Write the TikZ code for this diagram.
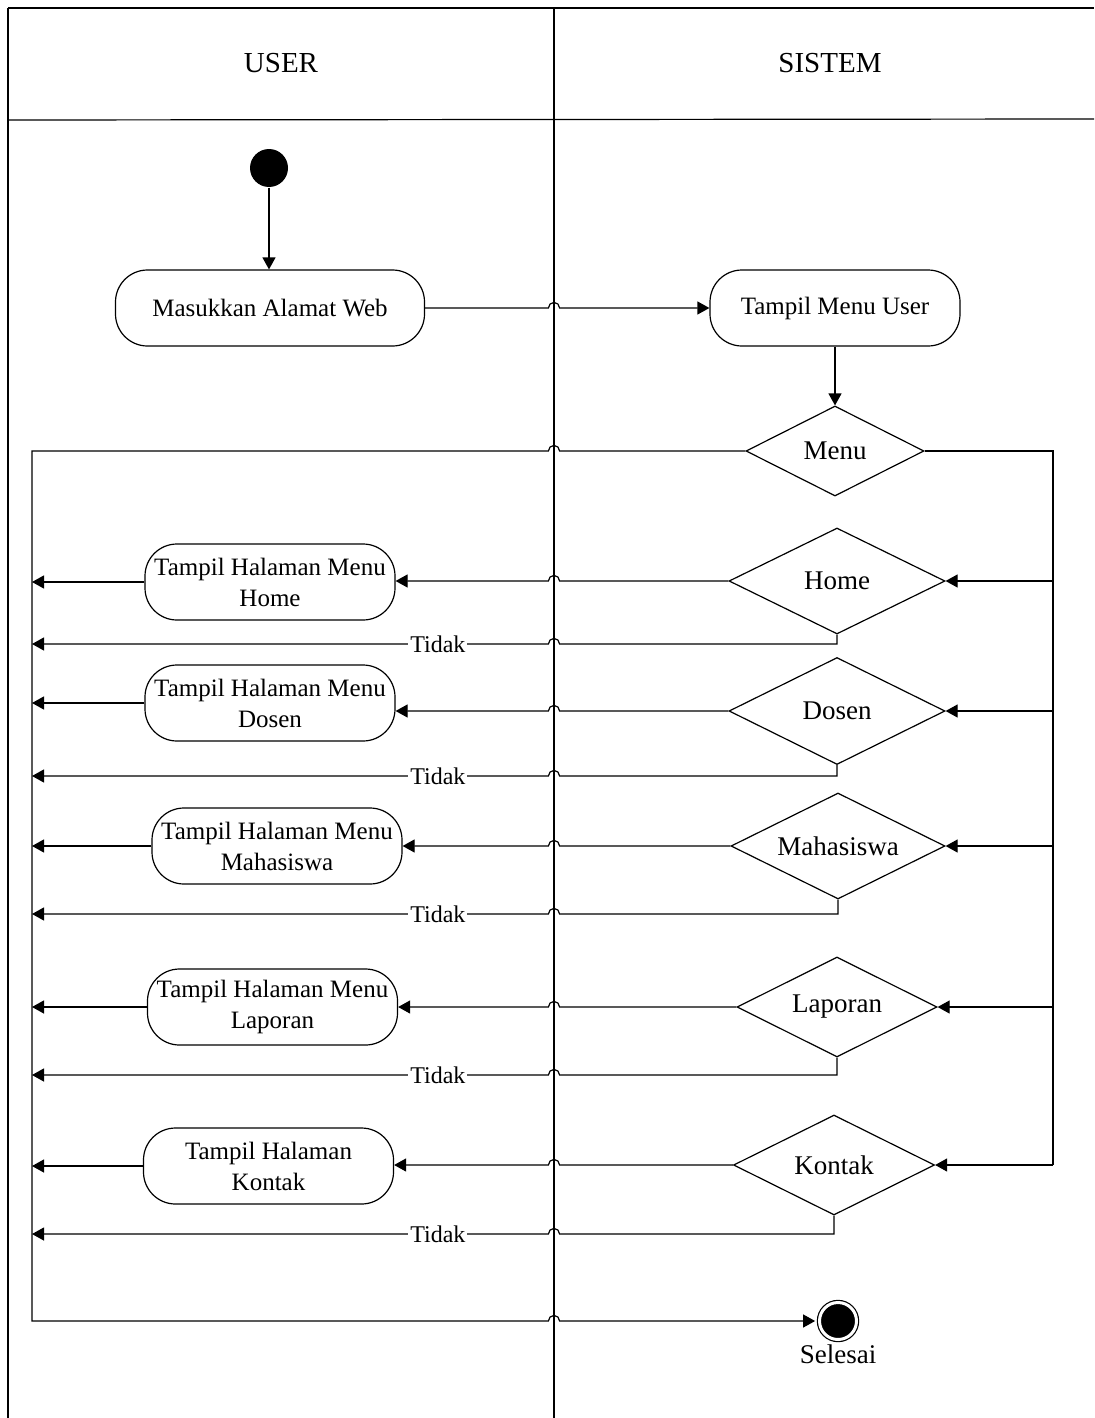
\documentclass[tikz,border=0pt]{standalone}
\usepackage{fontspec}
\setmainfont{Liberation Serif}
\usetikzlibrary{arrows.meta, positioning, shapes.geometric, calc}

\tikzset{
    act/.style = {draw, rectangle, rounded corners=16pt, align=center, inner sep=0pt,
        font=\fontsize{12.5}{15.5}\selectfont},
    screen/.style = {act, minimum width=125pt, minimum height=38pt},
    choice/.style = {draw, diamond, aspect=2, inner sep=0pt,
        font=\fontsize{13.5}{16}\selectfont},
    laneTitle/.style = {font=\fontsize{14.5}{17}\selectfont},
    initialDot/.style = {circle, fill=black, minimum size=19pt, inner sep=0pt},
    finalDot/.style = {circle, draw, fill=black, double=white, double distance=1.5pt,
        minimum size=18.5pt, inner sep=0pt},
    flow/.style = {-{Triangle[length=6pt, width=6.5pt]}},
    tidak/.style = {fill=white, inner sep=1pt, pos=0.214, font=\fontsize{12}{14}\selectfont},
    hopl/.style = {to path={-- ($(\tikztostart -| lane)+(2.8pt,0)$)
        arc[start angle=0, end angle=180, radius=2.8pt] -- (\tikztotarget) \tikztonodes}},
    hopr/.style = {to path={-- ($(\tikztostart -| lane)+(-2.8pt,0)$)
        arc[start angle=180, end angle=0, radius=2.8pt] -- (\tikztotarget) \tikztonodes}},
}

\begin{document}
\begin{tikzpicture}[x=0.5pt, y=-0.5pt, line width=0.6pt]
    \useasboundingbox (0,0) rectangle (1094,1418);

    % swimlanes
    \draw (8,8) -- (1094,8);
    \draw (8,120) -- (1094,119);
    \draw (8,8) -- (8,1418);
    \draw (554,8) -- (554,1418);
    \node (user) at (281,63) [laneTitle] {USER};
    \node (sistem) at (830,63) [laneTitle] {SISTEM};

    \coordinate (lane) at (554,0);
    \coordinate (rail) at (32,0);
    \coordinate (bus) at (1053,0);
    \coordinate (railend) at (32,1321);

    % nodes
    \node (start) at (269,168) [initialDot] {};
    \node (masuk) at (270,308) [act, minimum width=154.5pt, minimum height=38pt] {Masukkan Alamat Web};
    \node (menuuser) at (835,308) [screen] {Tampil Menu User};
    \node (menu) at (835,451) [choice, minimum width=89pt, minimum height=45pt] {Menu};

    \node (dHome) at (837,581) [choice, minimum width=108pt, minimum height=53pt] {Home};
    \node (dDosen) at (837,711) [choice, minimum width=108pt, minimum height=53.5pt] {Dosen};
    \node (dMhs) at (838,846) [choice, minimum width=107pt, minimum height=53pt] {Mahasiswa};
    \node (dLap) at (837,1007) [choice, minimum width=100pt, minimum height=50pt] {Laporan};
    \node (dKontak) at (834,1165) [choice, minimum width=100.5pt, minimum height=50pt] {Kontak};

    \node (bHome) at (270,582) [screen] {Tampil Halaman Menu\\Home};
    \node (bDosen) at (270,703) [screen] {Tampil Halaman Menu\\Dosen};
    \node (bMhs) at (277,846) [screen] {Tampil Halaman Menu\\Mahasiswa};
    \node (bLap) at (272.5,1007) [screen] {Tampil Halaman Menu\\Laporan};
    \node (bKontak) at (268.5,1166) [screen] {Tampil Halaman\\Kontak};

    \node (finish) at (838,1321) [finalDot,
        label={[font=\fontsize{13.5}{16}\selectfont, label distance=-1.5pt]below:Selesai}] {};

    \coordinate (tHome) at (837,644);
    \coordinate (tDosen) at (837,776);
    \coordinate (tMhs) at (838,914);
    \coordinate (tLap) at (837,1075);
    \coordinate (tKontak) at (834,1234);

    % connectors
    \draw [flow] (start) -- (start |- masuk.north);
    \draw [flow] (masuk) to[hopr] (menuuser);
    \draw [flow] (menuuser) -- (menu);
    \draw (menu.east) -| (bus |- dKontak.east);
    \draw [flow] (menu.west) to[hopl] (menu.west -| rail) -- (railend) to[hopr] ([xshift=-1.9pt]finish.west);

    \draw [flow] (dHome.east -| bus) -- (dHome.east);
    \draw [flow] (dHome.west) to[hopl] (dHome.west -| bHome.east);
    \draw [flow] (bHome) -- (bHome -| rail);
    \draw [flow] (dHome.south) -- (tHome) to[hopl] node[tidak] {Tidak} (tHome -| rail);

    \draw [flow] (dDosen.east -| bus) -- (dDosen.east);
    \draw [flow] (dDosen.west) to[hopl] (dDosen.west -| bDosen.east);
    \draw [flow] (bDosen) -- (bDosen -| rail);
    \draw [flow] (dDosen.south) -- (tDosen) to[hopl] node[tidak] {Tidak} (tDosen -| rail);

    \draw [flow] (dMhs.east -| bus) -- (dMhs.east);
    \draw [flow] (dMhs.west) to[hopl] (dMhs.west -| bMhs.east);
    \draw [flow] (bMhs) -- (bMhs -| rail);
    \draw [flow] (dMhs.south) -- (tMhs) to[hopl] node[tidak] {Tidak} (tMhs -| rail);

    \draw [flow] (dLap.east -| bus) -- (dLap.east);
    \draw [flow] (dLap.west) to[hopl] (dLap.west -| bLap.east);
    \draw [flow] (bLap) -- (bLap -| rail);
    \draw [flow] (dLap.south) -- (tLap) to[hopl] node[tidak] {Tidak} (tLap -| rail);

    \draw [flow] (dKontak.east -| bus) -- (dKontak.east);
    \draw [flow] (dKontak.west) to[hopl] (dKontak.west -| bKontak.east);
    \draw [flow] (bKontak) -- (bKontak -| rail);
    \draw [flow] (dKontak.south) -- (tKontak) to[hopl] node[tidak] {Tidak} (tKontak -| rail);
\end{tikzpicture}
\end{document}
